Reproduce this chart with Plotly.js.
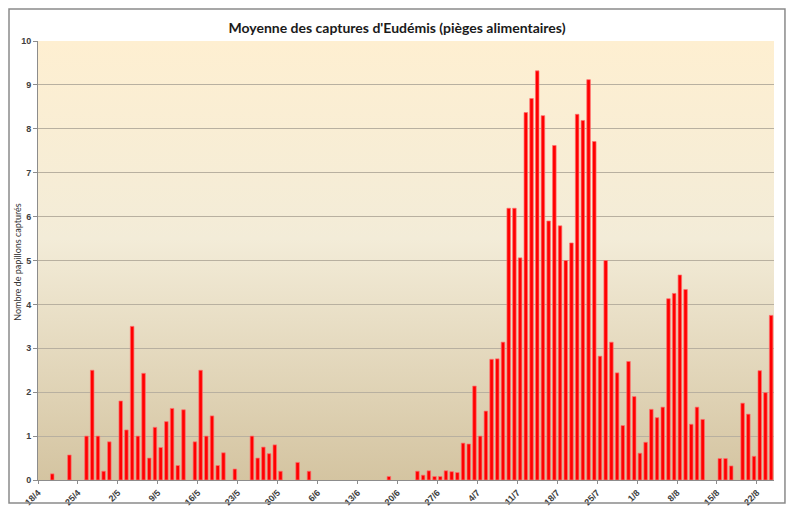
<!DOCTYPE html>
<html>
<head>
<meta charset="utf-8">
<script src="https://cdn.plot.ly/plotly-3.0.1.min.js"></script>
<style>
html,body{margin:0;padding:0;background:#fff;}
#chart{width:791px;height:506px;}
</style>
</head>
<body>
<div id="chart"></div>
<script>
// Capture days (d/m) and mean number of moths caught that day
const days = [
  "20/4","23/4","26/4","27/4","28/4","29/4","30/4",
  "2/5","3/5","4/5","5/5","6/5","7/5","8/5","9/5","10/5","11/5","12/5","13/5",
  "15/5","16/5","17/5","18/5","19/5","20/5","22/5","25/5","26/5","27/5","28/5","29/5","30/5",
  "2/6","4/6","18/6","23/6","24/6","25/6","26/6","27/6","28/6","29/6","30/6",
  "1/7","2/7","3/7","4/7","5/7","6/7","7/7","8/7","9/7","10/7","11/7","12/7","13/7","14/7","15/7",
  "16/7","17/7","18/7","19/7","20/7","21/7","22/7","23/7","24/7","25/7","26/7","27/7","28/7","29/7","30/7","31/7",
  "1/8","2/8","3/8","4/8","5/8","6/8","7/8","8/8","9/8","10/8","11/8","12/8",
  "15/8","16/8","17/8","19/8","20/8","21/8","22/8","23/8","24/8"
];
const captures = [
  0.14,0.57,1.0,2.5,1.0,0.2,0.87,
  1.8,1.14,3.5,1.0,2.43,0.5,1.2,0.74,1.33,1.63,0.33,1.6,
  0.87,2.5,1.0,1.46,0.33,0.62,0.25,1.0,0.5,0.75,0.6,0.8,0.2,
  0.4,0.2,0.08,0.2,0.11,0.21,0.08,0.08,0.21,0.19,0.17,
  0.84,0.82,2.14,1.0,1.57,2.75,2.76,3.14,6.19,6.19,5.06,8.37,8.69,9.32,8.3,
  5.9,7.62,5.79,5.0,5.4,8.33,8.19,9.12,7.71,2.82,5.0,3.14,2.44,1.24,2.7,1.9,
  0.61,0.86,1.61,1.42,1.66,4.13,4.25,4.67,4.34,1.27,1.66,1.38,
  0.49,0.49,0.32,1.75,1.5,0.54,2.49,1.99,3.75
];
const year = 2014;
const firstDay = "18/4";
const lastDayExclusive = "25/8";

function toISO(dm){
  const p = dm.split("/");
  const d = p[0].padStart(2,"0"), m = p[1].padStart(2,"0");
  return year + "-" + m + "-" + d;
}
const xDates = days.map(toISO);
const DAY = 86400000;

const bgSvg = '<svg xmlns="http://www.w3.org/2000/svg" width="10" height="100" preserveAspectRatio="none">' +
  '<defs><linearGradient id="g" x1="0" y1="0" x2="0" y2="1">' +
  '<stop offset="0" stop-color="#FEEFD1"/>' +
  '<stop offset="0.45" stop-color="#F3ECD8"/>' +
  '<stop offset="1" stop-color="#D4C4A1"/>' +
  '</linearGradient></defs><rect width="10" height="100" fill="url(#g)"/></svg>';
const bgSrc = "data:image/svg+xml;base64," + btoa(bgSvg);

const trace = {
  type: "bar",
  x: xDates,
  y: captures,
  xperiod: DAY,
  xperiodalignment: "middle",
  width: 0.62 * DAY,
  marker: { color: "#FF0000", line: { color: "#FF7070", width: 0.7 } },
  hoverinfo: "x+y"
};

const tickFont = { family: "'Liberation Sans Narrow', 'Liberation Sans', sans-serif", size: 9, color: "#404040", weight: 700 };

const layout = {
  width: 791, height: 506,
  margin: { l: 38, r: 17, t: 41, b: 26, autoexpand: false },
  paper_bgcolor: "#FFFFFF",
  plot_bgcolor: "rgba(0,0,0,0)",
  showlegend: false,
  font: { family: "Lato, 'Open Sans', sans-serif", color: "#333333" },
  title: {
    text: "Moyenne des captures d'Eudémis (pièges alimentaires)",
    font: { family: "Lato, 'Open Sans', sans-serif", size: 14, color: "#1a1a1a", weight: 700 },
    x: 397/791, xref: "container", xanchor: "center",
    y: 1 - 28/506, yref: "container", yanchor: "middle"
  },
  xaxis: {
    type: "date",
    range: [toISO(firstDay), toISO(lastDayExclusive)],
    tick0: toISO(firstDay),
    dtick: 7 * DAY,
    tickformat: "%-d/%-m",
    tickangle: -45,
    tickfont: tickFont,
    ticks: "outside", ticklen: 3, tickcolor: "#8c8c8c",
    showgrid: false,
    showline: true, linecolor: "#8c8c8c", linewidth: 1,
    zeroline: false,
    automargin: false,
    fixedrange: true
  },
  yaxis: {
    range: [0, 10],
    dtick: 1,
    tickfont: tickFont,
    ticks: "outside", ticklen: 4, tickcolor: "#8c8c8c",
    showgrid: true, gridcolor: "#B8B0A0", gridwidth: 1,
    showline: true, linecolor: "#8c8c8c", linewidth: 1,
    zeroline: false,
    automargin: false,
    fixedrange: true
  },
  annotations: [{
    text: "Nombre de papillons capturés",
    xref: "paper", yref: "paper",
    x: (18 - 38) / 736, y: 0.497,
    xanchor: "center", yanchor: "middle",
    textangle: -90, showarrow: false,
    font: { family: "Lato, 'Open Sans', sans-serif", size: 9, color: "#333333" }
  }],
  images: [{
    source: bgSrc, xref: "paper", yref: "paper",
    x: 0, y: 1, sizex: 1, sizey: 1,
    sizing: "stretch", xanchor: "left", yanchor: "top", layer: "below"
  }],
  shapes: [{
    type: "rect", xref: "paper", yref: "paper",
    x0: -0.0394, x1: 1.0149, y0: -0.0524, y1: 1.0729,
    line: { color: "#8a8a8a", width: 1.5 }, fillcolor: "rgba(0,0,0,0)", layer: "above"
  }]
};

Plotly.newPlot("chart", [trace], layout, { displayModeBar: false, staticPlot: true });
</script>
</body>
</html>
